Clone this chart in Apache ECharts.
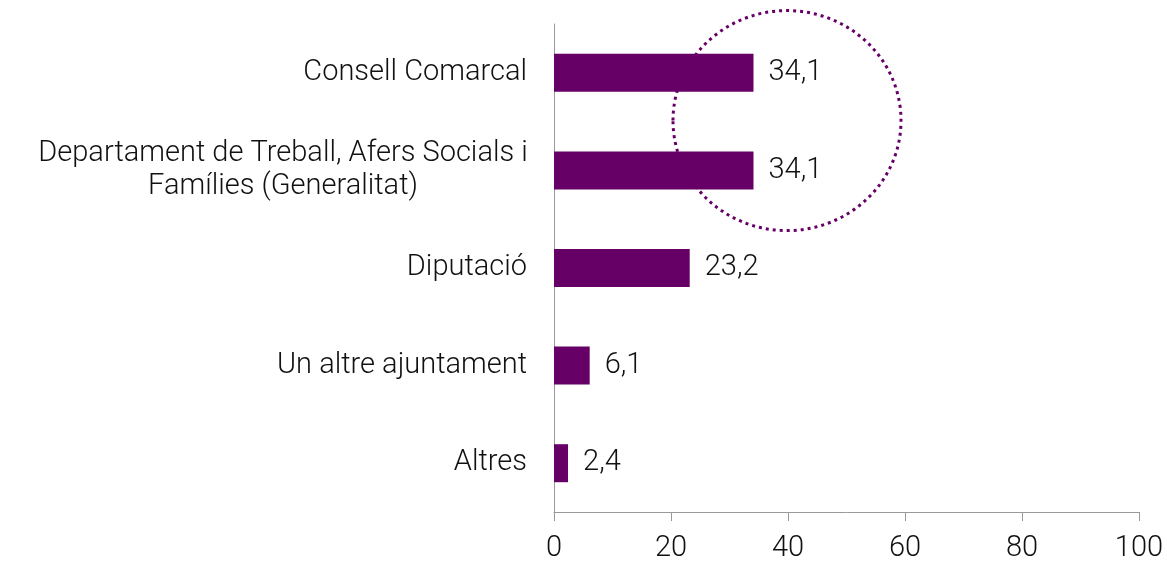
<!DOCTYPE html>
<html>
<head>
<meta charset="utf-8">
<script src="https://cdn.jsdelivr.net/npm/echarts@6/dist/echarts.min.js"></script>
<style>
  html, body { margin: 0; padding: 0; background: #fff; }
  #chart { width: 1167px; height: 566px; }
</style>
</head>
<body>
<div id="chart"></div>
<script>
const categories = [
  'Consell Comarcal',
  'Departament de Treball, Afers Socials i\nFamílies (Generalitat)',
  'Diputació',
  'Un altre ajuntament',
  'Altres'
];
const values = [34.1, 34.1, 23.2, 6.1, 2.4];
const xTicks = [0, 20, 40, 60, 80, 100];
// highlight ring around the first two bars (value on x axis, between categories 0 and 1)
const highlightX = 40;

const fontFamily = 'Roboto, "Liberation Sans", sans-serif';
const fontSize = 29;
const purple = '#660066';

const chart = echarts.init(document.getElementById('chart'));
chart.setOption({
  animation: false,
  grid: { left: 554, right: 28, top: 24, bottom: 54 },
  xAxis: {
    type: 'value',
    min: xTicks[0],
    max: xTicks[xTicks.length - 1],
    interval: 20,
    axisLine: { show: true, lineStyle: { color: '#999', width: 1 } },
    axisTick: { show: true, length: 9, lineStyle: { color: '#999' } },
    splitLine: { show: false },
    axisLabel: { fontSize: fontSize, color: '#111', fontFamily: fontFamily, fontWeight: 300, margin: 22 }
  },
  yAxis: {
    type: 'category',
    inverse: true,
    data: categories,
    axisLine: { show: true, lineStyle: { color: '#999', width: 1 } },
    axisTick: { show: false },
    axisLabel: {
      fontSize: fontSize, color: '#111', fontFamily: fontFamily, fontWeight: 300, margin: 27,
      formatter: function (v) {
        if (v.indexOf('\n') >= 0) {
          return v.split('\n').map(function (s) { return '{c|' + s + '}'; }).join('\n');
        }
        return v;
      },
      rich: {
        c: { fontSize: fontSize, color: '#111', fontFamily: fontFamily, fontWeight: 300, width: 488, align: 'center', lineHeight: 33 }
      }
    }
  },
  series: [{
    type: 'bar',
    data: values,
    barWidth: 38,
    itemStyle: { color: purple },
    label: {
      show: true,
      position: 'right',
      distance: 15,
      fontSize: fontSize,
      color: '#111',
      fontFamily: fontFamily,
      fontWeight: 300,
      formatter: function (p) { return p.value.toFixed(1).replace('.', ','); }
    }
  }]
});

const p0 = chart.convertToPixel({ gridIndex: 0 }, [highlightX, 0]);
const p1 = chart.convertToPixel({ gridIndex: 0 }, [highlightX, 1]);
chart.setOption({
  graphic: [{
    type: 'ellipse',
    shape: { cx: p0[0] - 1, cy: (p0[1] + p1[1]) / 2 - 1, rx: 114, ry: 110 },
    style: { fill: 'none', stroke: purple, lineWidth: 3, lineDash: [3, 4] },
    z: 100
  }]
});
</script>
</body>
</html>
